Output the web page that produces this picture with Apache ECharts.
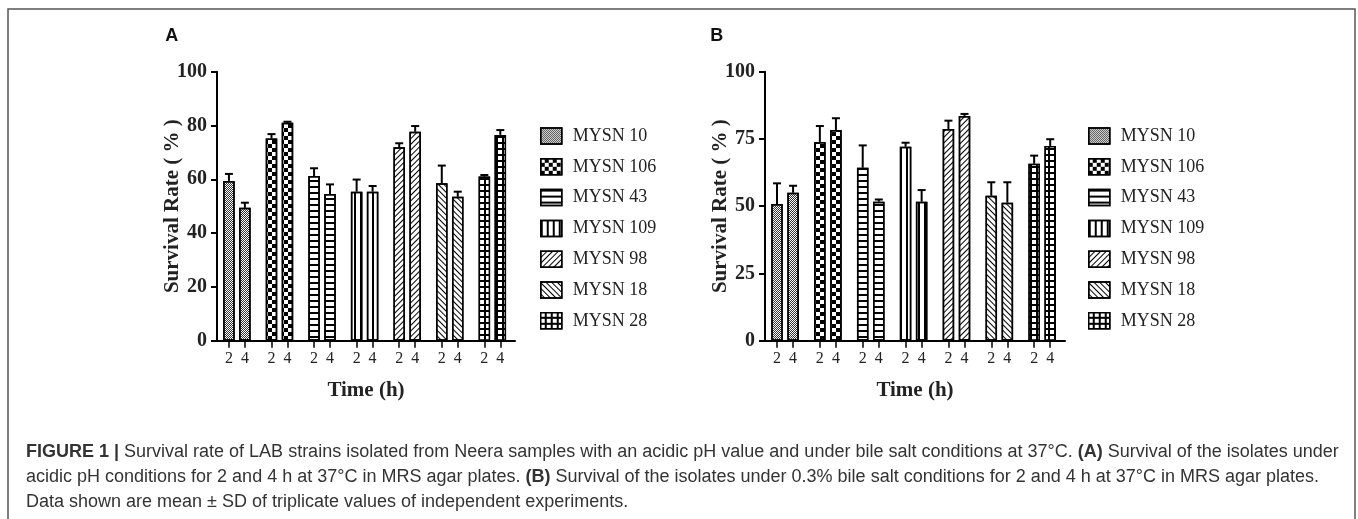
<!DOCTYPE html>
<html>
<head>
<meta charset="utf-8">
<script src="https://cdn.jsdelivr.net/npm/echarts@6/dist/echarts.min.js"></script>
<style>
html,body{margin:0;padding:0;background:#fff;}
#chart{width:1358px;height:519px;}
</style>
</head>
<body>
<div id="chart"></div>
<script>
// ---- data ----
const strains = ['MYSN 10','MYSN 106','MYSN 43','MYSN 109','MYSN 98','MYSN 18','MYSN 28'];
const timeLabels = ['2','4'];
// Panel A: acidic pH
const acidMean2h = [59.4, 75.2, 61.2, 55.4, 71.9, 58.5, 61.0];
const acidMean4h = [49.4, 81.0, 54.5, 55.4, 77.7, 53.5, 76.5];
const acidSd2h   = [2.6, 1.6, 2.9, 4.5, 1.5, 6.6, 0.6];
const acidSd4h   = [1.9, 0.4, 3.6, 2.1, 2.1, 1.9, 1.8];
// Panel B: 0.3% bile salt
const bileMean2h = [50.8, 73.9, 64.3, 72.1, 78.7, 53.9, 65.8];
const bileMean4h = [55.0, 78.3, 51.7, 51.7, 83.5, 51.3, 72.4];
const bileSd2h   = [7.7, 5.9, 8.3, 1.5, 3.1, 5.0, 3.0];
const bileSd4h   = [2.6, 4.4, 0.8, 4.3, 0.8, 7.6, 2.5];
const yTicksA = [0, 20, 40, 60, 80, 100];
const yTicksB = [0, 25, 50, 75, 100];

// ---- layout / style ----
const slotOffset = [0.28, 0.655];   // position of 2 h / 4 h bar inside each strain group
const serif = 'Liberation Serif';
const decals = [
  {symbol:'rect', symbolSize:1, color:'#333', dashArrayX:[[1,1],[0,1,1,0]], dashArrayY:[1,0]},
  {symbol:'rect', symbolSize:1, color:'#000', dashArrayX:[[3.5,3.5],[0,3.5,3.5,0]], dashArrayY:[3.5,0]},
  {symbol:'rect', symbolSize:1, color:'#000', dashArrayX:[1,0], dashArrayY:[1.5,3.5]},
  {symbol:'rect', symbolSize:1, color:'#000', dashArrayX:[1.5,3.2], dashArrayY:[1,0]},
  {symbol:'rect', symbolSize:1, color:'#000', dashArrayX:[1,0], dashArrayY:[1,2.2], rotation:-Math.PI/4},
  {symbol:'rect', symbolSize:1, color:'#000', dashArrayX:[1,0], dashArrayY:[1,2.4], rotation:Math.PI/4},
  {symbol:'rect', symbolSize:1, color:'#fff', backgroundColor:'#000', dashArrayX:[3.6,1.1], dashArrayY:[3.6,1.1]}
];

const tickPositions = [];
strains.forEach((s, i) => slotOffset.forEach(o => tickPositions.push(i + o)));

function barSeries(g, m2, m4) {
  return strains.map((s, i) => ({
    name: s, type: 'bar', xAxisIndex: g, yAxisIndex: g,
    barWidth: 11.5, barGap: '-100%',
    data: [[i + slotOffset[0], m2[i]], [i + slotOffset[1], m4[i]]],
    itemStyle: {color:'#fff', borderColor:'#000', borderWidth:1.5, decal: decals[i]},
    emphasis: {disabled: true}
  }));
}
function errSeries(g, m2, m4, s2, s4) {
  const d = [];
  strains.forEach((s, i) => {
    d.push([i + slotOffset[0], m2[i], m2[i] + s2[i]]);
    d.push([i + slotOffset[1], m4[i], m4[i] + s4[i]]);
  });
  return {
    type: 'custom', xAxisIndex: g, yAxisIndex: g, z: 5,
    encode: {x: 0, y: [1, 2]}, data: d,
    renderItem: (params, api) => {
      const x = api.value(0);
      const p0 = api.coord([x, api.value(1)]);
      const p1 = api.coord([x, api.value(2)]);
      const st = {stroke:'#000', lineWidth:2};
      return {type:'group', children:[
        {type:'line', shape:{x1:p0[0], y1:p0[1], x2:p1[0], y2:p1[1]}, style:st},
        {type:'line', shape:{x1:p1[0]-4, y1:p1[1], x2:p1[0]+4, y2:p1[1]}, style:st}
      ]};
    }
  };
}
function xAxis(g) {
  return {
    type:'value', gridIndex:g, min:0, max:strains.length,
    axisLine:{show:true, lineStyle:{color:'#000', width:2}},
    axisTick:{show:true, customValues:tickPositions, length:7, lineStyle:{color:'#000', width:1.5}},
    axisLabel:{customValues:tickPositions, margin:10, fontFamily:serif, fontSize:16, color:'#222',
      formatter: v => timeLabels[(v - Math.floor(v)) < 0.5 ? 0 : 1]},
    splitLine:{show:false},
    name:'Time (h)', nameLocation:'middle', nameGap:39, nameMoveOverlap:false,
    nameTextStyle:{fontFamily:serif, fontWeight:'bold', fontSize:21, color:'#222'}
  };
}
function yAxis(g, ticks) {
  return {
    type:'value', gridIndex:g, min:ticks[0], max:ticks[ticks.length-1], interval:ticks[1]-ticks[0],
    axisLine:{show:true, lineStyle:{color:'#000', width:2}},
    axisTick:{show:true, length:6, lineStyle:{color:'#000', width:2}},
    axisLabel:{margin:10, fontFamily:serif, fontWeight:'bold', fontSize:20, color:'#222'},
    splitLine:{show:false},
    name:'Survival Rate ( % )', nameLocation:'middle', nameRotate:90, nameGap:34, nameMoveOverlap:false,
    nameTextStyle:{fontFamily:serif, fontWeight:'bold', fontSize:21, color:'#222'}
  };
}
function legend(left) {
  return {
    left:left, top:122, orient:'vertical', data:strains, icon:'rect',
    itemWidth:21, itemHeight:16, itemGap:12.8, selectedMode:false,
    itemStyle:{borderColor:'#000', borderWidth:1.5},
    textStyle:{fontFamily:serif, fontSize:18, color:'#222', padding:[0,0,0,6]}
  };
}

const captionFont = 'Liberation Sans';
const captionLines = [
  '{b|FIGURE 1 |} Survival rate of LAB strains isolated from Neera samples with an acidic pH value and under bile salt conditions at 37°C. {b|(A)} Survival of the isolates under',
  'acidic pH conditions for 2 and 4 h at 37°C in MRS agar plates. {b|(B)} Survival of the isolates under 0.3% bile salt conditions for 2 and 4 h at 37°C in MRS agar plates.',
  'Data shown are mean ± SD of triplicate values of independent experiments.'
];

const chart = echarts.init(document.getElementById('chart'), null, {renderer:'canvas'});
chart.setOption({
  animation:false,
  backgroundColor:'#fff',
  grid:[
    {left:217, top:71.7, width:298, height:269, containLabel:false, outerBoundsMode:'none'},
    {left:765, top:71.7, width:300, height:269, containLabel:false, outerBoundsMode:'none'}
  ],
  xAxis:[xAxis(0), xAxis(1)],
  yAxis:[yAxis(0, yTicksA), yAxis(1, yTicksB)],
  legend:[legend(535), legend(1083)],
  series:[
    ...barSeries(0, acidMean2h, acidMean4h),
    errSeries(0, acidMean2h, acidMean4h, acidSd2h, acidSd4h),
    ...barSeries(1, bileMean2h, bileMean4h),
    errSeries(1, bileMean2h, bileMean4h, bileSd2h, bileSd4h)
  ],
  graphic:[
    {type:'rect', shape:{x:8, y:9, width:1347, height:530}, style:{fill:null, stroke:'#555', lineWidth:1.5}, silent:true},
    {type:'text', x:171.7, y:35.7, style:{text:'A', fontFamily:captionFont, fontWeight:'bold', fontSize:18, fill:'#111', align:'center', verticalAlign:'middle'}},
    {type:'text', x:716.7, y:35.7, style:{text:'B', fontFamily:captionFont, fontWeight:'bold', fontSize:18, fill:'#111', align:'center', verticalAlign:'middle'}},
    ...captionLines.map((t, i) => ({
      type:'text', x:26, y:452 + i * 24.8,
      style:{text:t, fontFamily:captionFont, fontSize:18, fill:'#333', verticalAlign:'middle',
        rich:{b:{fontFamily:captionFont, fontWeight:'bold', fontSize:18, fill:'#333'}}}
    }))
  ]
});
</script>
</body>
</html>
